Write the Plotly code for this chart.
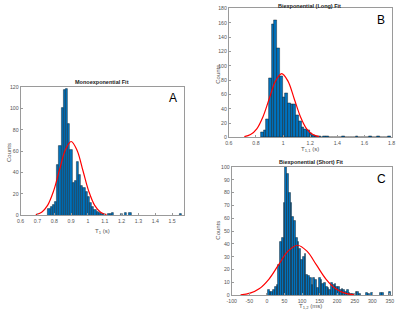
import numpy as np
import plotly.graph_objects as go

W, H = 400, 315

# ---------------- Data ----------------
# Panel A: Monoexponential fit, T1 (s)
a_bin_start = 0.763
a_bin_width = 0.013
a_counts = [6, 8, 10, 13, 47, 65, 100, 117, 118, 85, 61, 30, 32, 50, 38, 28, 26, 22,
            17, 12, 8, 5, 3, 2, 1, 1, 0, 1, 1, 2, 0, 0, 0, 1, 0, 2, 0, 2,
            0, 0, 0, 0, 0, 0, 0, 0, 0, 0, 0, 0, 0, 0, 0, 0, 0, 0, 0, 0, 0, 0, 1]
a_fit_x = [0.69, 0.725, 0.76, 0.795, 0.83, 0.865, 0.9, 0.935, 0.97, 1.005, 1.04, 1.075, 1.11]
a_fit_y = [0.77, 3.0, 9.3, 22.4, 41.9, 60.9, 69, 60.9, 41.9, 22.4, 9.3, 3.0, 0.77]
a_xticks = [0.6, 0.7, 0.8, 0.9, 1.0, 1.1, 1.2, 1.3, 1.4, 1.5]
a_xticklabels = ["0.6", "0.7", "0.8", "0.9", "1", "1.1", "1.2", "1.3", "1.4", "1.5"]
a_yticks = [0, 20, 40, 60, 80, 100, 120]

# Panel B: Biexponential (Long) fit, T1,1 (s)
b_bin_start = 0.835
b_bin_width = 0.02
b_counts = [7, 10, 26, 82, 158, 163, 124, 85, 56, 61, 48, 47, 47, 31, 22, 14, 12, 10,
            6, 3, 2, 2, 0, 2, 1, 0, 0, 0, 0, 0, 1, 0, 0, 0, 0, 1, 0, 0, 0, 0, 1,
            0, 0, 1, 0, 0, 0, 1]
b_fit_x = [0.714, 0.76, 0.806, 0.852, 0.898, 0.944, 0.99, 1.036, 1.082, 1.128, 1.174, 1.22, 1.266]
b_fit_y = [0.99, 3.9, 12.0, 28.9, 54.0, 78.5, 89, 78.5, 54.0, 28.9, 12.0, 3.9, 0.99]
b_xticks = [0.6, 0.8, 1.0, 1.2, 1.4, 1.6, 1.8]
b_xticklabels = ["0.6", "0.8", "1", "1.2", "1.4", "1.6", "1.8"]
b_yticks = [0, 20, 40, 60, 80, 100, 120, 140, 160, 180]

# Panel C: Biexponential (Short) fit, T1,2 (ms)
c_bin_start = 2
c_bin_width = 5
c_counts = [4, 3, 3, 4, 7, 8, 24, 42, 45, 72, 100, 95, 80, 72, 61, 58, 45, 42, 36, 28,
            30, 32, 16, 15, 14, 8, 14, 12, 6, 14, 12, 9, 10, 7, 6, 4, 10, 8, 9, 7,
            7, 4, 5, 4, 3, 4, 2, 1, 1, 0, 3, 3, 1, 0, 0, 0, 2, 1, 0, 2, 0, 0, 0, 0,
            2, 2, 0, 0, 0, 3]
c_fit_x = [-75, -48, -21, 6, 33, 60, 87, 114, 141, 168, 195, 222, 249]
c_fit_y = [0.43, 1.71, 5.3, 12.7, 23.7, 34.4, 39, 34.4, 23.7, 12.7, 5.3, 1.71, 0.43]
c_xticks = [-100, -50, 0, 50, 100, 150, 200, 250, 300, 350]
c_yticks = [0, 10, 20, 30, 40, 50, 60, 70, 80, 90, 100]

# ---------------- Styling ----------------
BAR_FILL = "#0072BD"
BAR_EDGE = "rgba(0,0,0,0.75)"
FIT_COLOR = "#ff0000"
AX_COLOR = "#9a9a9a"
TXT_COLOR = "#555555"
FONT = "Liberation Sans, Arial, sans-serif"


def px(x, y):
    return x / W, 1 - y / H


fig = go.Figure()

panels = [
    dict(n="", start=a_bin_start, width=a_bin_width, counts=a_counts, fx=a_fit_x, fy=a_fit_y,
         xr=[0.6, 1.57], yr=[0, 120], xt=a_xticks, xtl=a_xticklabels, yt=a_yticks,
         dom_x=(16, 183), dom_y=(85.5, 216.5)),
    dict(n="2", start=b_bin_start, width=b_bin_width, counts=b_counts, fx=b_fit_x, fy=b_fit_y,
         xr=[0.6, 1.8005], yr=[0, 180.2], xt=b_xticks, xtl=b_xticklabels, yt=b_yticks,
         dom_x=(229, 395.5), dom_y=(5.3, 137)),
    dict(n="3", start=c_bin_start, width=c_bin_width, counts=c_counts, fx=c_fit_x, fy=c_fit_y,
         xr=[-100, 355], yr=[0, 100.1], xt=c_xticks, xtl=[str(v) for v in c_xticks], yt=c_yticks,
         dom_x=(232, 395.5), dom_y=(167, 298)),
]

for p in panels:
    counts = np.array(p["counts"], dtype=float)
    centers = p["start"] + p["width"] * (np.arange(len(counts)) + 0.5)
    xa = "x" + p["n"]
    ya = "y" + p["n"]
    fig.add_trace(go.Bar(x=centers, y=counts, width=p["width"], xaxis=xa, yaxis=ya,
                         marker=dict(color=BAR_FILL, line=dict(color=BAR_EDGE, width=0.5)),
                         showlegend=False, hoverinfo="skip"))
    fig.add_trace(go.Scatter(x=p["fx"], y=p["fy"], mode="lines", xaxis=xa, yaxis=ya,
                             line=dict(color=FIT_COLOR, width=1.2, shape="spline"),
                             showlegend=False, hoverinfo="skip"))
    x0, x1 = p["dom_x"]
    ytop, ybot = p["dom_y"]
    axis_common = dict(showgrid=False, zeroline=False, showline=True, linecolor=AX_COLOR,
                       linewidth=1, mirror=True, ticks="inside", ticklen=2,
                       tickcolor=AX_COLOR, ticklabeloverflow="allow",
                       tickfont=dict(size=5.2, color=TXT_COLOR, family=FONT))
    xname = "xaxis" + p["n"]
    yname = "yaxis" + p["n"]
    fig.update_layout(**{
        xname: dict(domain=[x0 / W, x1 / W], range=p["xr"], tickvals=p["xt"], ticktext=p["xtl"],
                    anchor=ya, **axis_common),
        yname: dict(domain=[1 - ybot / H, 1 - ytop / H], range=p["yr"], tickvals=p["yt"],
                    anchor=xa, **axis_common),
    })

annotations = []


def ann(text, x, y, size, bold=False, color="#000000", angle=0, xanchor="center"):
    ax, ay = px(x, y)
    annotations.append(dict(text=("<b>%s</b>" % text) if bold else text, x=ax, y=ay,
                            xref="paper", yref="paper", showarrow=False, textangle=angle,
                            xanchor=xanchor, yanchor="middle",
                            font=dict(size=size, color=color, family=FONT)))


# Titles
ann("Monoexponential Fit", 99.5, 80.5, 5.5, bold=True, color="#222222")
ann("Biexponential (Long) Fit", 312, 2.8, 5.5, bold=True, color="#222222")
ann("Biexponential (Short) Fit", 313.5, 162, 5.5, bold=True, color="#222222")
# Panel letters
ann("A", 172, 97, 12)
ann("B", 385, 17, 12)
ann("C", 385, 179, 12)
# Axis titles
ann("T<sub>1</sub> (s)", 100, 233, 6, color=TXT_COLOR)
ann("T<sub>1,1</sub> (s)", 312, 149.5, 6, color=TXT_COLOR)
ann("T<sub>1,2</sub> (ms)", 313, 309.8, 6, color=TXT_COLOR)
ann("Counts", 4, 152, 6, color=TXT_COLOR, angle=-90)
ann("Counts", 217, 73, 6, color=TXT_COLOR, angle=-90)
ann("Counts", 217, 232, 6, color=TXT_COLOR, angle=-90)

fig.update_layout(width=W, height=H, autosize=False,
                  margin=dict(l=0, r=0, t=0, b=0),
                  paper_bgcolor="white", plot_bgcolor="white",
                  bargap=0, barmode="overlay", annotations=annotations,
                  font=dict(family=FONT))

fig.write_html("out.html", config={"displayModeBar": False},
               post_script="document.body.style.margin='0';document.body.style.overflow='hidden';")
